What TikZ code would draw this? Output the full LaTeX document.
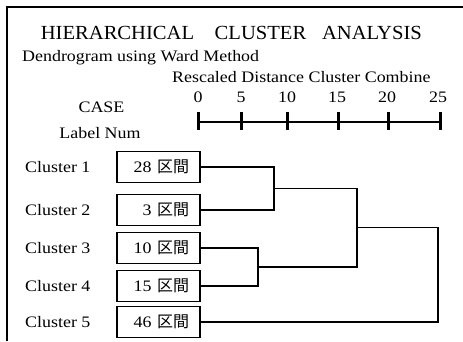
\documentclass[tikz,border=0pt]{standalone}
\usepackage{fontspec}
\setmainfont{Liberation Serif}[FakeStretch=1.12]
\newfontfamily\titlefont{Liberation Serif}[FakeStretch=1.03]
\newfontfamily\jpfont{Noto Sans CJK JP}
\usetikzlibrary{positioning}

\begin{document}
\begin{tikzpicture}[x=1pt, y=-1pt,
  lbl/.style={inner sep=0pt, font=\fontsize{16}{19}\selectfont},
  ttl/.style={inner sep=0pt, anchor=base, font=\titlefont\fontsize{20}{24}\selectfont},
  box/.style={draw, line width=1.3pt, minimum height=31pt, text width=61pt, inner xsep=11pt, align=right, font=\fontsize{16}{19}\selectfont},
  link/.style={line width=1.3pt},
  tickmark/.style={line width=3pt}
]
  \useasboundingbox (0,0) rectangle (463,341);
  % frame
  \draw[line width=1.2pt] (7,341) -- (7,7) -- (463,7);

  % headings
  \node[ttl] (t1) at (117.5,39) {HIERARCHICAL};
  \node[ttl] (t2) at (260.5,39) {CLUSTER};
  \node[ttl] (t3) at (372,39) {ANALYSIS};
  \node[lbl, anchor=base west] (sub) at (22,61) {Dendrogram using Ward Method};
  \node[lbl, anchor=base west] (dist) at (172,82) {Rescaled Distance Cluster Combine};
  \node[lbl, anchor=base] (case) at (101.5,112) {CASE};
  \node[lbl, anchor=base] (lnum) at (100,138) {Label Num};

  % distance axis
  \coordinate (a0) at (198,122);
  \coordinate (a25) at (440,122);
  \draw[line width=2.5pt] (a0) -- (a25);
  \foreach \v/\x/\lx in {0/198/198, 5/241/241, 10/287/287, 15/338/337, 20/388/387, 25/440/438} {
    \draw[tickmark] (\x,112) -- (\x,130);
    \node[lbl, anchor=base] (n\v) at (\lx,102) {\v};
  }

  % cases
  \node[box] (b1) at (158.5,167) {28 {\jpfont 区間}};
  \node[box] (b2) at (158.5,210) {3 {\jpfont 区間}};
  \node[box] (b3) at (158.5,248) {10 {\jpfont 区間}};
  \node[box] (b4) at (158.5,286) {15 {\jpfont 区間}};
  \node[box] (b5) at (158.5,322) {46 {\jpfont 区間}};
  \foreach \i/\y in {1/167, 2/210, 3/248, 4/286, 5/322}
    \node[lbl, anchor=west] (c\i) at (25,\y) {Cluster \i};

  % merges
  \coordinate (m12) at (274,188.5);
  \coordinate (m34) at (258,267);
  \coordinate (m1234) at (357,227.5);
  \coordinate (mall) at (438,275);
  \draw[link] (b1.east) -| (m12) |- (b2.east);
  \draw[link] (b3.east) -| (m34) |- (b4.east);
  \draw[link] (m12) -| (m1234) |- (m34);
  \draw[link] (m1234) -| (mall) |- (b5.east);
\end{tikzpicture}
\end{document}
